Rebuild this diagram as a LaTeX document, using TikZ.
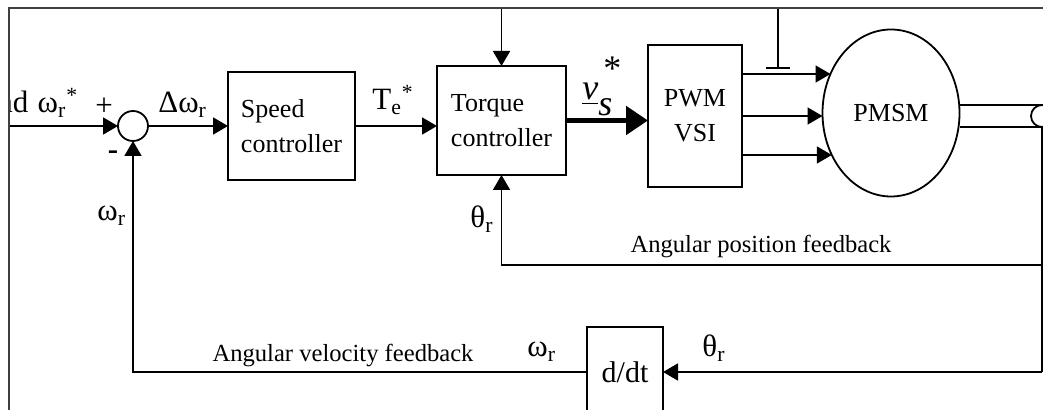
\documentclass[tikz,border=0pt]{standalone}
\usepackage{fontspec}
\setmainfont{Liberation Serif}
\usetikzlibrary{arrows.meta,shapes.geometric,calc}

\begin{document}
\begin{tikzpicture}[x=0.5pt, y=-0.5pt]
        % Define styles for the blocks and the arrows
        \tikzset{
            block/.style={draw, line width=0.9pt, inner sep=0pt, outer sep=0pt, align=left, font=\fontsize{13}{17.5}\selectfont},
            signal arrow/.style={-{Triangle[length=7.5pt, width=8.5pt]}, line width=0.9pt},
            wide arrow/.style={-{Triangle[length=11pt, width=14pt]}, line width=2.6pt},
            signal line/.style={line width=0.9pt},
            sig label/.style={font=\fontsize{15.5}{17}\selectfont, inner sep=0pt, anchor=base west},
            fb text/.style={font=\fontsize{12.3}{14}\selectfont, inner sep=0pt, anchor=base}
        }

        \useasboundingbox (0,0) rectangle (1043,410);

        \begin{scope}
        \clip (9.5,0) rectangle (1043,410);

        % Draw the summing junction and the blocks
        \node[circle, draw, line width=0.9pt, minimum size=15pt, inner sep=0pt, outer sep=0pt] (sum) at (133,126) {};
        \node[block, minimum width=63.5pt, minimum height=54pt] (speed) at (291.5,126) {Speed\\controller};
        \node[block, minimum width=64.5pt, minimum height=54.5pt] (torque) at (501.5,120.5) {Torque\\controller};
        \node[block, align=center, minimum width=47pt, minimum height=71pt] (pwm) at (695,116) {PWM\\VSI};
        \node[block, ellipse, align=center, minimum width=68.5pt, minimum height=83.5pt] (pmsm) at (891,113) {PMSM};
        \node[block, align=center, minimum width=38pt, minimum height=45pt, font=\fontsize{15}{17}\selectfont] (ddt) at (625,372) {d/dt};
        \node[circle, draw, line width=0.9pt, minimum size=11pt, inner sep=0pt, outer sep=0pt] (enc) at (1042,116) {};

        % Draw the forward path
        \coordinate (cmd) at (9,126);
        \draw[signal arrow] (cmd) -- (sum.west);
        \draw[signal arrow] (sum.east) -- (speed.west);
        \draw[signal arrow] (speed.east) -- (speed.east -| torque.west);
        \draw[wide arrow] (torque.east) -- (torque.east -| pwm.west);

        % Draw the three phase lines into the motor
        \foreach \dy/\dx in {-42/8, 0/0, 39/9.3} {
            \draw[signal arrow] ($(pwm.east)+(0,\dy)$) -- ($(pwm.east -| pmsm.west)+(\dx,\dy)$);
        }

        % Draw the shaft and the sensor
        \draw[signal line] (enc.north) -- (enc.north -| pmsm.east);
        \draw[signal line] (enc.south) -- (enc.south -| pmsm.east);

        % Draw the current tap feeding the torque controller
        \coordinate (tap) at (778,68);
        \coordinate (topturn) at (778,8);
        \draw[line width=1.2pt] ($(tap)+(-12,0)$) -- ($(tap)+(12,0)$);
        \draw[signal arrow] (tap) -- (topturn) -| (torque.north);

        % Draw the feedback paths
        \coordinate (posfb) at (1042,265);
        \coordinate (velfb) at (1042,372);
        \draw[signal line] (enc.south) -- (velfb);
        \draw[signal arrow] (posfb) -| (torque.south);
        \draw[signal arrow] (velfb) -- (ddt.east);
        \draw[signal arrow] (ddt.west) -| (sum.south);

        % Labels for the signals
        \node[sig label] (cmdlbl) at (-3,113) {nd\hspace{0.3em}ω\textsubscript{r}\textsuperscript{*}};
        \node[sig label, anchor=center] (plus) at (104,107) {+};
        \node[sig label, anchor=center] (minus) at (113,155) {\textbf{-}};
        \node[sig label] (dwlbl) at (158,113) {Δω\textsubscript{r}};
        \node[sig label] (telbl) at (372,110) {T\textsubscript{e}\textsuperscript{*}};
        \node[sig label, font=\fontsize{18}{20}\selectfont] (vslbl) at (582,100) {\textit{\underline{v}}\raisebox{-0.42em}{\textit{s}}\hspace{-0.25em}\raisebox{0.55em}{*}};
        \node[sig label] (thlbl) at (470,228) {θ\textsubscript{r}};
        \node[sig label] (wlbl) at (97,221) {ω\textsubscript{r}};
        \node[sig label] (wddtlbl) at (527,357) {ω\textsubscript{r}};
        \node[sig label] (thddtlbl) at (702,357) {θ\textsubscript{r}};
        \node[fb text] (posfbtext) at (761,253) {Angular position feedback};
        \node[fb text] (velfbtext) at (343,362) {Angular velocity feedback};
        \end{scope}

        % Draw the frame
        \draw[line width=0.7pt, black!75] (9,410) -- (9,8) -- (1043,8);

    \end{tikzpicture}
\end{document}
